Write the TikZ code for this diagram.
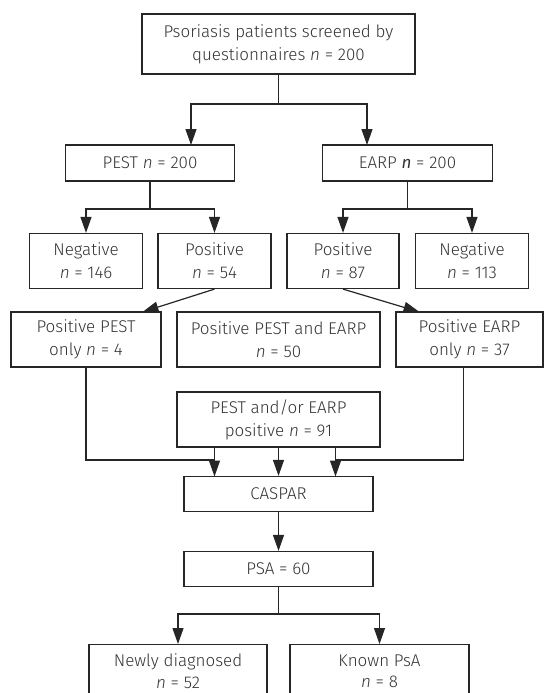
\documentclass[tikz,border=0pt]{standalone}
\usepackage{fontspec}
\setmainfont{Fira Sans}[UprightFont={* Light}, ItalicFont={* Light Italic}, BoldFont={*}, BoldItalicFont={* Italic}]
\usetikzlibrary{arrows.meta,calc}
\begin{document}
\begin{tikzpicture}[x=1pt,y=-1pt,
  box/.style={draw=black!85, line width=1.2pt, text=black!80, inner sep=0pt, align=center, font=\fontsize{17}{23}\selectfont},
  ln/.style={draw=black!85, line width=1.2pt},
  arr/.style={ln, -{Triangle[width=11pt,length=16pt]}}]
\useasboundingbox (0,0) rectangle (545,693);
\node[box, minimum width=273pt, minimum height=60pt] (top) at (278.5,44) {Psoriasis patients screened by\\questionnaires \textit{n} = 200};
\node[box, minimum width=169pt, minimum height=36pt] (pest) at (150,163) {PEST \textit{n} = 200};
\node[box, minimum width=170pt, minimum height=36pt] (earp) at (407.5,163) {EARP \textbf{\textit{n}} = 200};
\node[box, minimum width=113pt, minimum height=55pt] (neg1) at (86,261) {Negative\\\textit{n} = 146};
\node[box, minimum width=113pt, minimum height=55pt] (pos1) at (214.5,261) {Positive\\\textit{n} = 54};
\node[box, minimum width=112pt, minimum height=55pt] (pos2) at (343,261) {Positive\\\textit{n} = 87};
\node[box, minimum width=113pt, minimum height=55pt] (neg2) at (472,261) {Negative\\\textit{n} = 113};
\node[box, minimum width=150pt, minimum height=55pt] (ponly) at (86,339.5) {Positive PEST\\only \textit{n} = 4};
\node[box, minimum width=203pt, minimum height=55pt] (both) at (278.5,339.5) {Positive PEST and EARP\\\textit{n} = 50};
\node[box, minimum width=147pt, minimum height=55pt] (eonly) at (469.5,339.5) {Positive EARP\\only \textit{n} = 37};
\node[box, minimum width=203pt, minimum height=55pt] (andor) at (278.5,419.5) {PEST and/or EARP\\positive \textit{n} = 91};
\node[box, minimum width=189pt, minimum height=35pt] (caspar) at (278.5,494) {CASPAR};
\node[box, minimum width=189pt, minimum height=35pt] (psa) at (278.5,569) {PSA = 60};
\node[box, minimum width=178pt, minimum height=53pt, anchor=north, font=\fontsize{17}{21.5}\selectfont] (newly) at (178,644) {Newly diagnosed\\\textit{n} = 52};
\node[box, minimum width=179pt, minimum height=53pt, anchor=north, font=\fontsize{17}{21.5}\selectfont] (known) at (379.5,644) {Known PsA\\\textit{n} = 8};
% connectors
\coordinate (j0) at (278.5,104);
\coordinate (pestin) at (191,145);
\coordinate (earpin) at (367,145);
\draw[ln] (top.south) -- (j0);
\draw[arr] (j0) -| (pestin);
\draw[arr] (j0) -| (earpin);
\coordinate (j1) at (150,209);
\draw[ln] (pest.south) -- (j1);
\draw[arr] (j1) -| (neg1.north);
\draw[arr] (j1) -| (pos1.north);
\coordinate (j2) at (407.5,209);
\draw[ln] (earp.south) -- (j2);
\draw[arr] (j2) -| (pos2.north);
\draw[arr] (j2) -| (neg2.north);
\coordinate (ponlyin) at (142.5,312);
\coordinate (eonlyin) at (419.5,312);
\draw[arr] (pos1.south) -- (ponlyin);
\draw[arr] (pos2.south) -- (eonlyin);
\coordinate (aL) at (214.5,447);
\coordinate (aR) at (335.5,447);
\coordinate (cL) at (214.5,476.5);
\coordinate (cR) at (335.5,476.5);
\coordinate (jL) at (214.5,460);
\coordinate (jR) at (335.5,460);
\draw[arr] (aL) -- (cL);
\draw[arr] (aR) -- (cR);
\draw[arr] (andor.south) -- (caspar.north);
\draw[ln] (ponly.south) |- (jL);
\draw[ln] ($(eonly.south)+(-6,0)$) |- (jR);
\draw[arr] (caspar.south) -- (psa.north);
\coordinate (j3) at (278.5,614);
\draw[ln] (psa.south) -- (j3);
\draw[arr] (j3) -| (newly.north);
\draw[arr] (j3) -| (known.north);
\end{tikzpicture}
\end{document}
